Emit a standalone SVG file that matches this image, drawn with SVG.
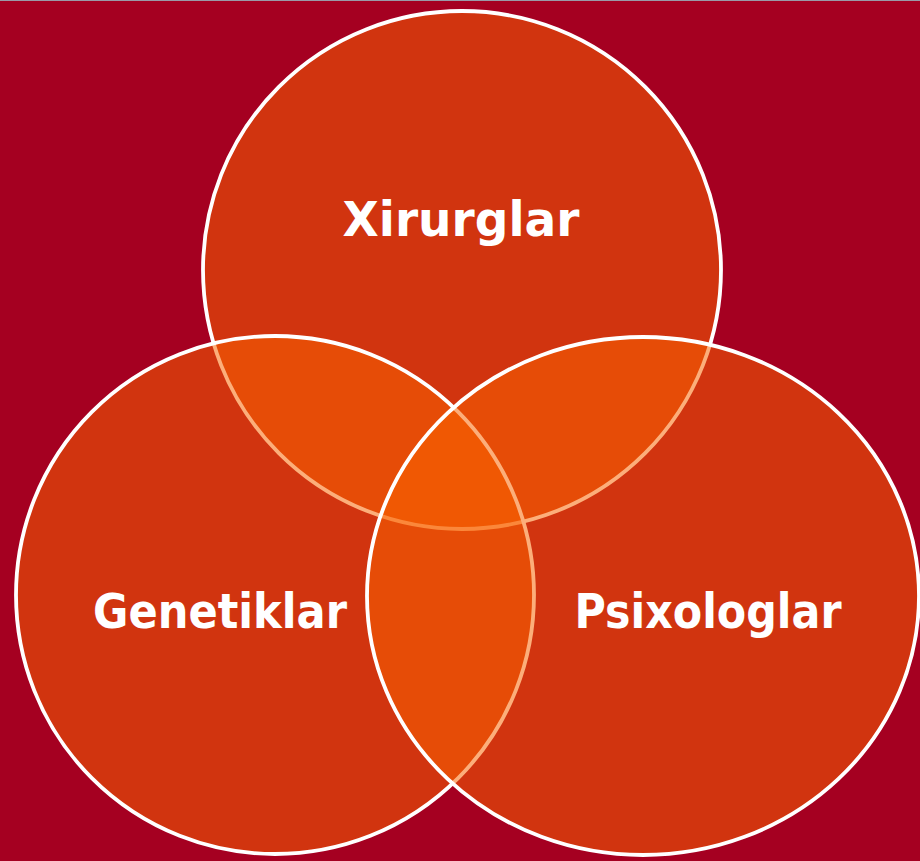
<svg xmlns="http://www.w3.org/2000/svg" width="920" height="861" viewBox="0 0 920 861">
<style>
.c{fill:rgb(250,100,0);fill-opacity:0.52;stroke:#fff;stroke-width:3.8}
.t{fill:#fff;font-family:"DejaVu Sans","Liberation Sans",sans-serif;font-weight:bold;font-size:48px;text-anchor:middle}
</style>
<rect width="920" height="861" fill="#A50021"/>
<line x1="0" y1="0.5" x2="920" y2="0.5" stroke="#9a9aa8" stroke-width="1"/>
<g id="xirurglar">
<circle class="c" cx="462" cy="270" r="259"/>
<text class="t" x="461" y="236" textLength="237" lengthAdjust="spacingAndGlyphs">Xirurglar</text>
</g>
<g id="genetiklar">
<circle class="c" cx="275" cy="595" r="259"/>
<text class="t" x="220" y="628" textLength="254" lengthAdjust="spacingAndGlyphs">Genetiklar</text>
</g>
<g id="psixologlar">
<ellipse class="c" cx="643" cy="596" rx="276" ry="259"/>
<text class="t" x="708" y="628" textLength="267" lengthAdjust="spacingAndGlyphs">Psixologlar</text>
</g>
<g id="connectors"></g>
</svg>
